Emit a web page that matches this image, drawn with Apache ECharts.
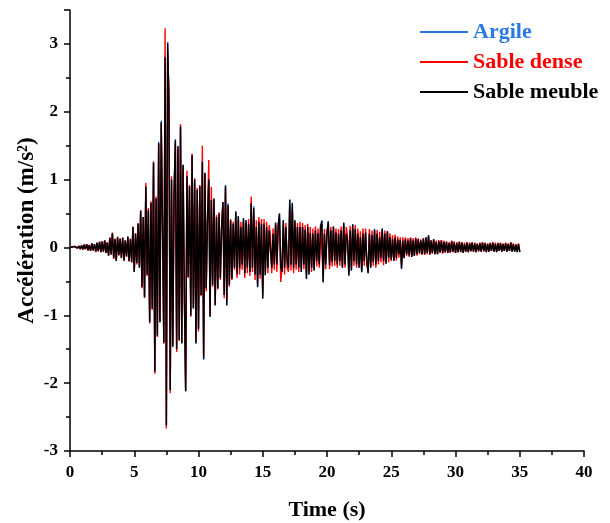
<!DOCTYPE html>
<html>
<head>
<meta charset="utf-8">
<script src="https://cdn.jsdelivr.net/npm/echarts@6/dist/echarts.min.js"></script>
<style>
  html, body { margin: 0; padding: 0; background: #fff; }
  #chart { width: 610px; height: 523px; }
</style>
</head>
<body>
<div id="chart"></div>
<script>
// Ground acceleration records sampled every 0.1 s from 0 to 35 s.
const sampleStep = 0.1;
const seriesNames = ['Argile', 'Sable dense', 'Sable meuble'];

const argile = [
  0, 0, 0.01, -0.01, 0.01, 0, -0.01, 0.02, -0.02, 0.03,
  -0.03, 0.04, -0.02, 0.05, -0.04, 0.03, -0.05, 0.06, -0.04, 0.05,
  -0.06, 0.07, -0.05, 0.08, -0.07, 0.09, -0.06, 0.10, -0.08, 0.07,
  -0.12, 0.14, -0.10, 0.21, -0.16, 0.12, -0.20, 0.15, -0.11, 0.13,
  -0.15, 0.14, -0.19, 0.10, -0.13, 0.16, -0.20, 0.12, -0.22, 0.30,
  -0.36, 0.21, -0.23, 0.35, -0.30, 0.54, -0.59, 0.45, -0.73, 0.90,
  -0.41, 0.55, -1.11, 0.66, -0.90, 1.26, -1.84, 0.72, -1.30, 1.56,
  -1.11, 1.87, 0.30, -1.40, 2.82, -2.63, 3.03, 2.12, -2.10, 1.00,
  -1.47, 0.80, 1.60, -1.50, 1.50, -1.36, 1.79, -1.42, 1.22, -0.70,
  -2.12, 1.05, -0.43, 0.90, -1.01, 1.37, -0.90, 1.00, -1.42, 0.85,
  -1.20, 0.90, -0.70, 1.27, -1.66, 1.10, -0.60, 0.40, 1.00, -1.03,
  0.70, -0.55, 0.72, -0.86, 0.45, -0.60, 0.50, -0.45, 0.30, 0.67,
  -0.70, 0.92, -0.86, 0.65, -0.55, 0.40, -0.46, 0.35, -0.30, 0.53,
  -0.40, 0.46, -0.31, 0.30, -0.25, 0.43, -0.38, 0.40, -0.30, 0.35,
  -0.36, 0.65, -0.30, 0.61, -0.40, 0.30, -0.59, 0.38, -0.40, 0.35,
  -0.76, 0.35, -0.41, 0.30, -0.30, 0.25, 0.23, -0.30, 0.20, -0.25,
  0.37, -0.25, 0.30, 0.50, -0.30, -0.36, 0.40, -0.30, 0.30, -0.20,
  -0.30, 0.71, -0.25, 0.66, -0.30, 0.40, -0.25, 0.30, -0.30, 0.30,
  -0.36, 0.30, -0.25, 0.26, -0.47, 0.30, -0.40, 0.21, -0.30, 0.20,
  -0.34, 0.25, -0.20, 0.21, -0.25, 0.30, 0.40, -0.52, 0.20, -0.25,
  0.20, 0.39, -0.26, 0.25, -0.21, 0.31, -0.20, 0.22, -0.25, 0.20,
  -0.20, 0.25, -0.30, 0.37, -0.25, 0.20, 0.10, -0.42, 0.25, -0.34,
  0.34, -0.20, 0.27, -0.25, 0.20, -0.30, 0.15, -0.37, 0.20, -0.20,
  0.22, -0.20, -0.38, 0.20, -0.30, 0.18, -0.21, 0.28, -0.25, 0.20,
  -0.20, 0.15, -0.15, 0.28, -0.20, 0.20, -0.24, 0.24, -0.15, 0.15,
  -0.18, 0.12, -0.20, 0.15, -0.15, 0.12, -0.10, 0.11, -0.32, 0.10,
  -0.16, 0.12, -0.10, 0.10, -0.12, 0.13, -0.14, 0.10, -0.12, 0.13,
  -0.10, 0.13, -0.08, 0.10, -0.10, 0.13, -0.10, 0.15, -0.08, 0.18,
  -0.10, 0.10, -0.08, 0.12, -0.10, 0.08, -0.10, 0.09, -0.07, 0.10,
  -0.08, 0.08, -0.06, 0.08, -0.08, 0.06, -0.07, 0.09, -0.06, 0.07,
  -0.08, 0.06, -0.07, 0.08, -0.06, 0.07, -0.08, 0.05, -0.06, 0.07,
  -0.07, 0.06, -0.05, 0.07, -0.06, 0.06, -0.07, 0.05, -0.05, 0.06,
  -0.06, 0.07, -0.05, 0.06, -0.07, 0.05, -0.06, 0.06, -0.05, 0.07,
  -0.06, 0.05, -0.07, 0.06, -0.05, 0.06, -0.06, 0.05, -0.05, 0.06,
  -0.06, 0.05, -0.05, 0.07, -0.06, 0.05, -0.06, 0.04, -0.07, 0.05,
  -0.07
];

const sableDense = [
  0, 0, 0.01, -0.01, 0.02, -0.01, 0, 0.02, -0.03, 0.03,
  -0.02, 0.04, -0.03, 0.05, -0.05, 0.04, -0.04, 0.06, -0.05, 0.05,
  -0.07, 0.06, -0.06, 0.09, -0.06, 0.08, -0.07, 0.11, -0.08, 0.08,
  -0.11, 0.15, -0.11, 0.22, -0.17, 0.13, -0.19, 0.16, -0.12, 0.12,
  -0.16, 0.15, -0.20, 0.11, -0.14, 0.15, -0.21, 0.13, -0.21, 0.31,
  -0.35, 0.21, -0.25, 0.36, -0.28, 0.55, -0.60, 0.44, -0.75, 0.95,
  -0.42, 0.58, -1.12, 0.68, -0.92, 1.27, -1.86, 0.75, -1.32, 1.52,
  -1.08, 1.82, 0.35, -1.42, 3.23, -2.67, 2.85, 2.34, -2.15, 1.05,
  -1.45, 0.85, 1.55, -1.54, 1.45, -1.38, 1.82, -1.40, 1.20, -0.75,
  -2.10, 1.13, -0.45, 0.92, -1.02, 1.38, -0.88, 1.02, -1.38, 0.88,
  -1.24, 0.92, -0.72, 1.50, -1.60, 1.08, -0.65, 0.45, 1.29, -1.00,
  0.89, -0.58, 0.70, -0.83, 0.48, -0.62, 0.52, -0.48, 0.35, 0.65,
  -0.75, 0.88, -0.80, 0.60, -0.58, 0.42, -0.48, 0.38, -0.33, 0.50,
  -0.45, 0.40, -0.40, 0.38, -0.33, 0.38, -0.45, 0.36, -0.38, 0.42,
  -0.42, 0.75, -0.36, 0.50, -0.48, 0.40, -0.52, 0.45, -0.46, 0.42,
  -0.68, 0.42, -0.36, 0.38, -0.38, 0.33, 0.18, -0.38, 0.28, -0.33,
  0.33, -0.36, 0.36, 0.42, -0.51, -0.30, 0.34, -0.40, 0.36, -0.30,
  -0.36, 0.60, -0.34, 0.55, -0.38, 0.36, -0.33, 0.36, -0.36, 0.38,
  -0.30, 0.36, -0.32, 0.33, -0.40, 0.35, -0.35, 0.30, -0.36, 0.28,
  -0.30, 0.31, -0.28, 0.28, -0.30, 0.34, 0.33, -0.44, 0.27, -0.32,
  0.26, 0.32, -0.32, 0.30, -0.28, 0.30, -0.27, 0.28, -0.30, 0.27,
  -0.27, 0.31, -0.28, 0.33, -0.30, 0.30, 0.16, -0.36, 0.32, -0.30,
  0.30, -0.27, 0.33, -0.30, 0.28, -0.27, 0.24, -0.32, 0.28, -0.27,
  0.28, -0.26, -0.34, 0.27, -0.28, 0.25, -0.27, 0.24, -0.30, 0.26,
  -0.25, 0.23, -0.22, 0.26, -0.26, 0.25, -0.22, 0.23, -0.22, 0.21,
  -0.20, 0.18, -0.19, 0.19, -0.19, 0.16, -0.15, 0.15, -0.26, 0.15,
  -0.14, 0.15, -0.13, 0.14, -0.14, 0.15, -0.13, 0.14, -0.12, 0.15,
  -0.12, 0.13, -0.10, 0.12, -0.11, 0.14, -0.11, 0.13, -0.10, 0.15,
  -0.11, 0.11, -0.09, 0.12, -0.10, 0.10, -0.09, 0.11, -0.08, 0.11,
  -0.09, 0.10, -0.08, 0.09, -0.08, 0.08, -0.08, 0.10, -0.07, 0.09,
  -0.08, 0.08, -0.07, 0.09, -0.07, 0.08, -0.08, 0.07, -0.06, 0.08,
  -0.07, 0.07, -0.06, 0.08, -0.06, 0.07, -0.07, 0.06, -0.06, 0.07,
  -0.06, 0.08, -0.06, 0.07, -0.06, 0.06, -0.06, 0.07, -0.05, 0.08,
  -0.06, 0.07, -0.06, 0.07, -0.05, 0.07, -0.06, 0.06, -0.05, 0.07,
  -0.06, 0.06, -0.05, 0.08, -0.05, 0.06, -0.05, 0.05, -0.06, 0.06,
  -0.05
];

const sableMeuble = [
  0, 0, 0.01, -0.01, 0.01, 0, -0.01, 0.02, -0.02, 0.03,
  -0.03, 0.04, -0.02, 0.05, -0.04, 0.03, -0.05, 0.06, -0.04, 0.05,
  -0.06, 0.07, -0.05, 0.08, -0.07, 0.09, -0.06, 0.10, -0.08, 0.07,
  -0.12, 0.14, -0.10, 0.21, -0.16, 0.12, -0.20, 0.15, -0.11, 0.13,
  -0.15, 0.14, -0.19, 0.10, -0.13, 0.16, -0.20, 0.12, -0.22, 0.30,
  -0.36, 0.20, -0.23, 0.35, -0.30, 0.54, -0.58, 0.45, -0.73, 0.90,
  -0.40, 0.55, -1.10, 0.66, -0.90, 1.25, -1.83, 0.72, -1.30, 1.54,
  -1.10, 1.85, 0.30, -1.40, 2.80, -2.62, 3.01, 2.10, -2.10, 1.00,
  -1.46, 0.80, 1.58, -1.50, 1.49, -1.36, 1.78, -1.41, 1.22, -0.70,
  -2.12, 1.05, -0.43, 0.90, -1.00, 1.36, -0.90, 1.00, -1.41, 0.85,
  -1.20, 0.90, -0.70, 1.26, -1.64, 1.10, -0.60, 0.40, 1.00, -1.02,
  0.70, -0.55, 0.72, -0.85, 0.45, -0.60, 0.50, -0.45, 0.30, 0.67,
  -0.70, 0.91, -0.85, 0.63, -0.55, 0.40, -0.46, 0.35, -0.30, 0.53,
  -0.40, 0.46, -0.31, 0.30, -0.25, 0.43, -0.38, 0.40, -0.30, 0.35,
  -0.36, 0.65, -0.30, 0.58, -0.40, 0.30, -0.58, 0.38, -0.40, 0.35,
  -0.75, 0.35, -0.41, 0.30, -0.30, 0.25, 0.23, -0.30, 0.20, -0.25,
  0.36, -0.25, 0.30, 0.50, -0.30, -0.36, 0.40, -0.30, 0.30, -0.20,
  -0.30, 0.70, -0.25, 0.65, -0.30, 0.40, -0.25, 0.30, -0.30, 0.30,
  -0.36, 0.30, -0.25, 0.26, -0.46, 0.30, -0.40, 0.21, -0.30, 0.20,
  -0.34, 0.25, -0.20, 0.21, -0.25, 0.30, 0.39, -0.51, 0.20, -0.25,
  0.20, 0.38, -0.26, 0.25, -0.21, 0.31, -0.20, 0.22, -0.25, 0.20,
  -0.20, 0.25, -0.30, 0.36, -0.25, 0.20, 0.10, -0.41, 0.25, -0.34,
  0.34, -0.20, 0.27, -0.25, 0.20, -0.30, 0.15, -0.36, 0.20, -0.20,
  0.22, -0.20, -0.38, 0.20, -0.30, 0.18, -0.21, 0.26, -0.25, 0.20,
  -0.20, 0.15, -0.15, 0.28, -0.20, 0.20, -0.24, 0.24, -0.15, 0.15,
  -0.18, 0.12, -0.20, 0.15, -0.15, 0.12, -0.10, 0.11, -0.31, 0.10,
  -0.16, 0.12, -0.10, 0.10, -0.12, 0.13, -0.14, 0.10, -0.12, 0.13,
  -0.10, 0.12, -0.08, 0.10, -0.10, 0.13, -0.10, 0.15, -0.08, 0.18,
  -0.10, 0.10, -0.08, 0.12, -0.10, 0.08, -0.10, 0.09, -0.07, 0.10,
  -0.08, 0.08, -0.06, 0.08, -0.08, 0.06, -0.07, 0.09, -0.06, 0.07,
  -0.08, 0.06, -0.07, 0.08, -0.06, 0.07, -0.08, 0.05, -0.06, 0.07,
  -0.07, 0.06, -0.05, 0.07, -0.06, 0.06, -0.07, 0.05, -0.05, 0.06,
  -0.06, 0.07, -0.05, 0.06, -0.07, 0.05, -0.06, 0.06, -0.05, 0.07,
  -0.06, 0.05, -0.07, 0.06, -0.05, 0.06, -0.06, 0.05, -0.05, 0.06,
  -0.06, 0.05, -0.05, 0.07, -0.06, 0.05, -0.06, 0.04, -0.07, 0.05,
  -0.07
];

const seriesColors = ['#2a78e4', '#ff0000', '#000000'];
const seriesValues = [argile, sableDense, sableMeuble];

const fontFamily = '"Liberation Serif", "Times New Roman", serif';

function toPairs(values) {
  return values.map((v, i) => [Math.round(i * sampleStep * 10) / 10, v]);
}

const chart = echarts.init(document.getElementById('chart'), null, { renderer: 'canvas' });

const axisCommon = {
  axisLine: { show: true, onZero: false, lineStyle: { color: '#000', width: 1.5 } },
  axisTick: { show: true, inside: false, length: 6, lineStyle: { color: '#000', width: 1.5 } },
  minorTick: { show: true, splitNumber: 2, length: 4, lineStyle: { color: '#000', width: 1.5 } },
  splitLine: { show: false },
  minorSplitLine: { show: false },
  nameMoveOverlap: false,
  nameTextStyle: { fontFamily, fontWeight: 'bold', fontSize: 22, color: '#000' }
};

chart.setOption({
  animation: false,
  backgroundColor: '#fff',
  grid: { left: 70, right: 26, top: 10, bottom: 72, containLabel: false, outerBoundsMode: 'none' },
  legend: {
    orient: 'vertical',
    left: 419,
    top: 21,
    padding: 0,
    itemWidth: 48,
    itemHeight: 14,
    itemGap: 8,
    itemStyle: { opacity: 0 },
    textStyle: { fontFamily, fontWeight: 'bold', fontSize: 22 },
    data: seriesNames.map((name, i) => ({ name, textStyle: { color: seriesColors[i] } }))
  },
  xAxis: Object.assign({}, axisCommon, {
    type: 'value',
    min: 0,
    max: 40,
    interval: 5,
    name: 'Time (s)',
    nameLocation: 'middle',
    nameGap: 48,
    axisLabel: { margin: 13, fontFamily, fontWeight: 'bold', fontSize: 17, color: '#000' }
  }),
  yAxis: Object.assign({}, axisCommon, {
    type: 'value',
    min: -3,
    max: 3.5,
    interval: 1,
    name: 'Accélération (m/s²)',
    nameLocation: 'middle',
    nameRotate: 90,
    nameGap: 31,
    nameTextStyle: { fontFamily, fontWeight: 'bold', fontSize: 23, color: '#000' },
    axisLabel: { margin: 12, fontFamily, fontWeight: 'bold', fontSize: 17, color: '#000', showMaxLabel: false }
  }),
  series: seriesNames.map((name, i) => ({
    name,
    type: 'line',
    data: toPairs(seriesValues[i]),
    symbol: 'none',
    showSymbol: false,
    smooth: false,
    lineStyle: { color: seriesColors[i], width: 1.4 },
    itemStyle: { color: seriesColors[i] },
    emphasis: { disabled: true },
    z: 2 + i
  }))
});
</script>
</body>
</html>
